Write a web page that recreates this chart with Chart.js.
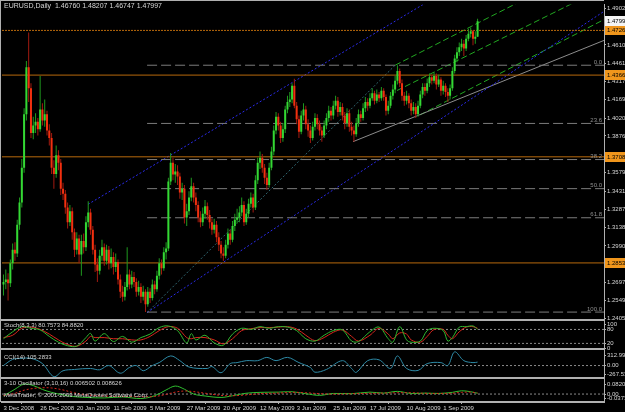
<!DOCTYPE html>
<html>
<head>
<meta charset="utf-8">
<script src="https://cdn.jsdelivr.net/npm/chart.js@4/dist/chart.umd.min.js"></script>
<style>
  html, body { margin: 0; padding: 0; background: #000; }
  canvas { display: block; }
</style>
</head>
<body>
<canvas id="chart" width="625" height="412"></canvas>
<script>
// EURUSD daily, 3 Dec 2008 .. 22 Sep 2009 (bar index 0 = 3 Dec 2008)
const TITLE = 'EURUSD,Daily  1.46760 1.48207 1.46747 1.47997';
const DATE_LABELS = ['3 Dec 2008', '26 Dec 2008', '20 Jan 2009', '11 Feb 2009', '5 Mar 2009', '27 Mar 2009',
  '20 Apr 2009', '12 May 2009', '3 Jun 2009', '25 Jun 2009', '17 Jul 2009', '10 Aug 2009', '1 Sep 2009'];
const DATE_TICK_BARS = [0, 16, 32, 48, 64, 80, 96, 112, 128, 144, 160, 176, 192];

const OPEN = [
  1.2680, 1.2700, 1.2720, 1.2690, 1.2850, 1.2960, 1.2930, 1.3160, 1.3340, 1.3620,
  1.4050, 1.4430, 1.4260, 1.3900, 1.3960, 1.3990, 1.3930, 1.4090, 1.4000, 1.4050,
  1.3920, 1.3860, 1.3620, 1.3570, 1.3720, 1.3660, 1.3450, 1.3410, 1.3300, 1.3180,
  1.3270, 1.3100, 1.2960, 1.3050, 1.2920, 1.3030, 1.2980, 1.3180, 1.3260, 1.3120,
  1.2960, 1.2840, 1.2790, 1.2910, 1.2980, 1.2870, 1.2960, 1.2850, 1.2900, 1.2820,
  1.2860, 1.2720, 1.2620, 1.2580, 1.2660, 1.2760, 1.2680, 1.2740, 1.2700, 1.2620,
  1.2660, 1.2580, 1.2620, 1.2520, 1.2620, 1.2570, 1.2680, 1.2640, 1.2750, 1.2850,
  1.2810, 1.2940, 1.2970, 1.3510, 1.3660, 1.3565, 1.3590, 1.3550, 1.3420, 1.3450,
  1.3220, 1.3270, 1.3380, 1.3470, 1.3380, 1.3320, 1.3220, 1.3180, 1.3250, 1.3310,
  1.3240, 1.3180, 1.3120, 1.3160, 1.3060, 1.3000, 1.2930, 1.2910, 1.3000, 1.3090,
  1.3040, 1.3150, 1.3200, 1.3220, 1.3260, 1.3320, 1.3180, 1.3250, 1.3330, 1.3380,
  1.3300, 1.3520, 1.3660, 1.3700, 1.3620, 1.3540, 1.3480, 1.3620, 1.3750, 1.3920,
  1.4030, 1.3960, 1.3860, 1.3930, 1.4090, 1.4150, 1.4170, 1.4280, 1.4120, 1.4010,
  1.3910, 1.4040, 1.4090, 1.3970, 1.3920, 1.3860, 1.3950, 1.4020, 1.3970, 1.3920,
  1.3880, 1.3960, 1.4020, 1.4080, 1.4040, 1.4120, 1.4160, 1.4070, 1.4110, 1.4040,
  1.3980, 1.4060, 1.3950, 1.3920, 1.3890, 1.3980, 1.4050, 1.4020, 1.4100, 1.4150,
  1.4120, 1.4180, 1.4220, 1.4160, 1.4210, 1.4180, 1.4240, 1.4190, 1.4080, 1.4120,
  1.4200, 1.4250, 1.4320, 1.4400, 1.4300, 1.4200, 1.4160, 1.4200, 1.4140, 1.4080,
  1.4110, 1.4050, 1.4120, 1.4210, 1.4270, 1.4240, 1.4300, 1.4350, 1.4320, 1.4360,
  1.4290, 1.4330, 1.4240, 1.4280, 1.4230, 1.4200, 1.4260, 1.4400, 1.4500, 1.4550,
  1.4590, 1.4620, 1.4580, 1.4660, 1.4700, 1.4720, 1.4660, 1.4676
];
const HIGH = [
  1.2760, 1.2800, 1.2770, 1.2880, 1.3010, 1.3020, 1.3200, 1.3380, 1.3690, 1.4100,
  1.4480, 1.4710, 1.4300, 1.4030, 1.4060, 1.4020, 1.4360, 1.4140, 1.4170, 1.4080,
  1.3970, 1.3900, 1.3680, 1.3800, 1.3760, 1.3690, 1.3500, 1.3440, 1.3340, 1.3320,
  1.3300, 1.3130, 1.3100, 1.3080, 1.3080, 1.3090, 1.3230, 1.3350, 1.3290, 1.3150,
  1.3000, 1.2890, 1.2960, 1.3040, 1.3010, 1.3000, 1.2990, 1.2970, 1.2940, 1.2930,
  1.2880, 1.2760, 1.2670, 1.2700, 1.2980, 1.2800, 1.2790, 1.2780, 1.2730, 1.2710,
  1.2690, 1.2670, 1.2640, 1.2660, 1.2650, 1.2720, 1.2710, 1.2790, 1.2890, 1.2880,
  1.2980, 1.3020, 1.3540, 1.3739, 1.3700, 1.3650, 1.3640, 1.3580, 1.3500, 1.3480,
  1.3330, 1.3430, 1.3540, 1.3500, 1.3420, 1.3350, 1.3270, 1.3300, 1.3360, 1.3340,
  1.3280, 1.3210, 1.3210, 1.3190, 1.3100, 1.3030, 1.2980, 1.3040, 1.3130, 1.3120,
  1.3190, 1.3250, 1.3290, 1.3310, 1.3380, 1.3350, 1.3290, 1.3370, 1.3420, 1.3410,
  1.3560, 1.3700, 1.3750, 1.3730, 1.3650, 1.3580, 1.3660, 1.3790, 1.3960, 1.4070,
  1.4060, 1.3990, 1.3980, 1.4120, 1.4200, 1.4230, 1.4300, 1.4338, 1.4150, 1.4040,
  1.4080, 1.4140, 1.4120, 1.4010, 1.3960, 1.3990, 1.4060, 1.4050, 1.4000, 1.3950,
  1.4000, 1.4060, 1.4120, 1.4110, 1.4160, 1.4200, 1.4190, 1.4150, 1.4140, 1.4070,
  1.4100, 1.4090, 1.3990, 1.3960, 1.4020, 1.4090, 1.4080, 1.4140, 1.4190, 1.4180,
  1.4220, 1.4260, 1.4240, 1.4250, 1.4230, 1.4270, 1.4260, 1.4210, 1.4160, 1.4230,
  1.4290, 1.4360, 1.4446, 1.4420, 1.4330, 1.4230, 1.4240, 1.4220, 1.4170, 1.4150,
  1.4140, 1.4160, 1.4240, 1.4300, 1.4300, 1.4340, 1.4380, 1.4370, 1.4390, 1.4380,
  1.4370, 1.4350, 1.4320, 1.4300, 1.4260, 1.4290, 1.4430, 1.4530, 1.4590, 1.4630,
  1.4660, 1.4650, 1.4690, 1.4740, 1.4750, 1.4730, 1.4720, 1.48207
];
const LOW = [
  1.2590, 1.2640, 1.2550, 1.2660, 1.2800, 1.2870, 1.2900, 1.3120, 1.3300, 1.3580,
  1.4000, 1.4150, 1.3860, 1.3850, 1.3900, 1.3880, 1.3910, 1.3960, 1.3950, 1.3880,
  1.3800, 1.3570, 1.3450, 1.3540, 1.3600, 1.3400, 1.3360, 1.3250, 1.3130, 1.3150,
  1.3040, 1.2900, 1.2920, 1.2850, 1.2750, 1.2930, 1.2950, 1.3140, 1.3080, 1.2920,
  1.2780, 1.2700, 1.2760, 1.2870, 1.2830, 1.2840, 1.2800, 1.2810, 1.2760, 1.2780,
  1.2680, 1.2570, 1.2540, 1.2550, 1.2630, 1.2640, 1.2650, 1.2660, 1.2580, 1.2590,
  1.2530, 1.2550, 1.2457, 1.2500, 1.2530, 1.2550, 1.2600, 1.2620, 1.2720, 1.2760,
  1.2790, 1.2880, 1.2950, 1.3480, 1.3520, 1.3500, 1.3480, 1.3370, 1.3360, 1.3170,
  1.3150, 1.3240, 1.3350, 1.3340, 1.3270, 1.3180, 1.3140, 1.3150, 1.3210, 1.3200,
  1.3130, 1.3080, 1.3090, 1.3020, 1.2950, 1.2890, 1.2869, 1.2890, 1.2970, 1.3000,
  1.3020, 1.3110, 1.3170, 1.3180, 1.3230, 1.3150, 1.3160, 1.3220, 1.3300, 1.3260,
  1.3280, 1.3490, 1.3610, 1.3580, 1.3490, 1.3440, 1.3460, 1.3600, 1.3720, 1.3890,
  1.3920, 1.3820, 1.3830, 1.3900, 1.4060, 1.4110, 1.4140, 1.4100, 1.3970, 1.3860,
  1.3890, 1.4000, 1.3930, 1.3870, 1.3820, 1.3840, 1.3920, 1.3930, 1.3880, 1.3830,
  1.3860, 1.3930, 1.3990, 1.4000, 1.4010, 1.4090, 1.4030, 1.4040, 1.4000, 1.3930,
  1.3950, 1.3910, 1.3880, 1.3830, 1.3870, 1.3950, 1.3990, 1.4000, 1.4070, 1.4080,
  1.4100, 1.4160, 1.4130, 1.4140, 1.4150, 1.4160, 1.4160, 1.4040, 1.4050, 1.4100,
  1.4170, 1.4220, 1.4290, 1.4270, 1.4160, 1.4120, 1.4130, 1.4100, 1.4040, 1.4050,
  1.4020, 1.4030, 1.4100, 1.4180, 1.4200, 1.4220, 1.4270, 1.4290, 1.4300, 1.4250,
  1.4270, 1.4200, 1.4210, 1.4190, 1.4150, 1.4170, 1.4240, 1.4380, 1.4470, 1.4520,
  1.4560, 1.4520, 1.4560, 1.4640, 1.4670, 1.4606, 1.4620, 1.46747
];
const CLOSE = [
  1.2700, 1.2720, 1.2690, 1.2850, 1.2960, 1.2930, 1.3160, 1.3340, 1.3620, 1.4050,
  1.4430, 1.4260, 1.3900, 1.3960, 1.3990, 1.3930, 1.4090, 1.4000, 1.4050, 1.3920,
  1.3860, 1.3620, 1.3570, 1.3720, 1.3660, 1.3450, 1.3410, 1.3300, 1.3180, 1.3270,
  1.3100, 1.2960, 1.3050, 1.2920, 1.3030, 1.2980, 1.3180, 1.3260, 1.3120, 1.2960,
  1.2840, 1.2790, 1.2910, 1.2980, 1.2870, 1.2960, 1.2850, 1.2900, 1.2820, 1.2860,
  1.2720, 1.2620, 1.2580, 1.2660, 1.2760, 1.2680, 1.2740, 1.2700, 1.2620, 1.2660,
  1.2580, 1.2620, 1.2520, 1.2620, 1.2570, 1.2680, 1.2640, 1.2750, 1.2850, 1.2810,
  1.2940, 1.2970, 1.3510, 1.3660, 1.3565, 1.3590, 1.3550, 1.3420, 1.3450, 1.3220,
  1.3270, 1.3380, 1.3470, 1.3380, 1.3320, 1.3220, 1.3180, 1.3250, 1.3310, 1.3240,
  1.3180, 1.3120, 1.3160, 1.3060, 1.3000, 1.2930, 1.2910, 1.3000, 1.3090, 1.3040,
  1.3150, 1.3200, 1.3220, 1.3260, 1.3320, 1.3180, 1.3250, 1.3330, 1.3380, 1.3300,
  1.3520, 1.3660, 1.3700, 1.3620, 1.3540, 1.3480, 1.3620, 1.3750, 1.3920, 1.4030,
  1.3960, 1.3860, 1.3930, 1.4090, 1.4150, 1.4170, 1.4280, 1.4120, 1.4010, 1.3910,
  1.4040, 1.4090, 1.3970, 1.3920, 1.3860, 1.3950, 1.4020, 1.3970, 1.3920, 1.3880,
  1.3960, 1.4020, 1.4080, 1.4040, 1.4120, 1.4160, 1.4070, 1.4110, 1.4040, 1.3980,
  1.4060, 1.3950, 1.3920, 1.3890, 1.3980, 1.4050, 1.4020, 1.4100, 1.4150, 1.4120,
  1.4180, 1.4220, 1.4160, 1.4210, 1.4180, 1.4240, 1.4190, 1.4080, 1.4120, 1.4200,
  1.4250, 1.4320, 1.4400, 1.4300, 1.4200, 1.4160, 1.4200, 1.4140, 1.4080, 1.4110,
  1.4050, 1.4120, 1.4210, 1.4270, 1.4240, 1.4300, 1.4350, 1.4320, 1.4360, 1.4290,
  1.4330, 1.4240, 1.4280, 1.4230, 1.4200, 1.4260, 1.4400, 1.4500, 1.4550, 1.4590,
  1.4620, 1.4580, 1.4660, 1.4700, 1.4720, 1.4660, 1.4676, 1.47997
];

// right-hand price scale labels
const PRICE_TICKS = [1.49025, 1.46100, 1.44615, 1.43175, 1.41690, 1.40205, 1.38765, 1.35795,
  1.34310, 1.32870, 1.31385, 1.29900, 1.26970, 1.25490, 1.24050];
const LAST_PRICE = 1.47997;
const HORIZONTAL_LEVELS = [1.47265, 1.43665, 1.37080, 1.28530];

// fibonacci retracement from the 4 Mar low to the 5 Aug high
const FIB_NAMES = ['0.0', '23.6', '38.2', '50.0', '61.8', '100.0'];
const FIB_PRICES = [1.4446, 1.3977, 1.3686, 1.34515, 1.3217, 1.2457];
const FIB_START_BAR = 62.7;

// trend / channel lines, end points as [bar, price]
const BLUE_UPPER = [[36.9, 1.3325], [190, 1.5010]];
const BLUE_LOWER = [[62.7, 1.2453], [262.2, 1.4880]];
const TEAL_MID = [[62.7, 1.2453], [171, 1.4446]];
const GRAY_TREND = [[152.6, 1.3830], [262.2, 1.4646]];
const GREEN_1 = [[171, 1.4446], [229.9, 1.5000]];
const GREEN_2 = [[171.8, 1.4242], [254.4, 1.4999]];
const GREEN_3 = [[181.9, 1.4046], [262.2, 1.4814]];

// Stoch(8,3,3)
const STOCH_BARS = [0, 4, 8, 12, 16, 20, 24, 28, 32, 36, 38, 40, 44, 48, 52, 56, 60, 64, 68, 72, 76, 80, 82, 84,
  88, 92, 96, 100, 104, 108, 112, 116, 120, 124, 128, 132, 136, 140, 144, 148, 152, 155, 160, 164, 168, 170,
  173, 176, 178, 182, 185, 188, 192, 194, 196, 199, 202, 205, 207];
const STOCH_MAIN = [40, 70, 92, 85, 78, 50, 25, 10, 8, 45, 63, 30, 62, 28, 50, 25, 45, 60, 88, 95, 75, 22, 62, 35,
  55, 22, 12, 60, 85, 80, 92, 85, 92, 90, 75, 40, 30, 55, 75, 78, 30, 28, 70, 90, 40, 25,
  92, 35, 25, 30, 75, 85, 75, 30, 45, 90, 92, 95, 80.7573];
const STOCH_SIGNAL = [45, 55, 85, 90, 80, 60, 35, 15, 8, 30, 50, 45, 45, 40, 40, 35, 35, 50, 75, 92, 85, 45, 40, 45,
  45, 35, 18, 40, 75, 83, 88, 88, 90, 92, 82, 55, 32, 45, 68, 78, 50, 30, 55, 85, 60, 40,
  65, 60, 35, 25, 50, 80, 80, 55, 40, 70, 90, 92, 84.8820];
const STOCH_LEVELS = [80, 20];

// CCI(14)
const CCI_BARS = [0, 4, 7, 12, 17, 22, 26, 31, 38, 42, 46, 51, 55, 58, 61, 65, 68, 73, 77, 81, 89, 91, 95, 99, 102,
  106, 111, 115, 119, 124, 129, 134, 136, 141, 148, 152, 154, 159, 164, 169, 172, 176, 181, 185, 191, 194,
  197, 201, 205, 207];
const CCI_VALUES = [0, 190, 215, 220, 60, -340, -160, -120, -90, -130, 0, -235, -60, 0, -160, 0, 90, 295, 150, -45,
  -90, -30, -220, 60, 90, 150, 150, 250, 150, 250, 90, -60, -205, -120, 150, -90, -210, 150, 175, -90,
  295, -90, -150, 60, 90, 0, 420, 150, 90, 105.2833];

// 3-10 Oscillator (3,10,16)
const OSC_BARS = [0, 5, 9, 13, 17, 21, 26, 30, 36, 44, 52, 60, 66, 71, 75, 79, 83, 88, 95, 100, 106, 112, 120, 126,
  132, 138, 144, 152, 160, 166, 172, 178, 184, 190, 196, 200, 204, 207];
const OSC_MAIN = [-0.016, 0.040, 0.082, 0.070, 0.038, 0.014, -0.007, -0.020, -0.028, -0.032,
  -0.024, -0.037, -0.014, 0.034, 0.066, 0.040, 0.000, -0.016, -0.028, -0.014,
  0.007, 0.014, 0.016, 0.019, 0.003, -0.011, 0.005, 0.003, 0.016, 0.008,
  0.022, 0.005, 0.008, 0.005, 0.014, 0.027, 0.019, 0.006502];
const OSC_SIGNAL = [-0.012, 0.006, 0.032, 0.046, 0.052, 0.050, 0.034, 0.014, -0.006, -0.016,
  -0.020, -0.022, -0.020, -0.003, 0.016, 0.025, 0.020, 0.007, -0.011, -0.014,
  -0.007, 0.003, 0.008, 0.014, 0.011, 0.003, 0.000, 0.003, 0.006, 0.008,
  0.011, 0.011, 0.006, 0.005, 0.007, 0.014, 0.016, 0.008626];

// visible bar window (empty space on the right like the terminal's chart shift)
const X_MIN = -0.65;
const X_MAX = 262.2;

const FAMILY = "'Liberation Sans', Arial, sans-serif";
const FONT = { family: FAMILY, size: 6 };
const TEXT = '#d6d6d6';
const FRAME = '#b0b0b0';

const bullish = (i) => CLOSE[i] >= OPEN[i];
const toPoints = (pairs) => pairs.map(([x, y]) => ({ x, y }));
const series = (bars, values) => bars.map((x, i) => ({ x, y: values[i] }));

function straight(points, color, dash, axis = 'y') {
  return {
    type: 'line',
    data: points,
    borderColor: color,
    borderWidth: 1,
    borderDash: dash,
    pointRadius: 0,
    tension: 0,
    yAxisID: axis,
    order: 5,
  };
}

function curve(points, color, axis, dash = []) {
  return {
    type: 'line',
    data: points,
    borderColor: color,
    borderWidth: 1,
    borderDash: dash,
    pointRadius: 0,
    tension: 0.35,
    yAxisID: axis,
    order: 2,
  };
}

function panelAxis(min, max, weight, tickValues, format) {
  return {
    type: 'linear',
    position: 'right',
    stack: 'panels',
    stackWeight: weight,
    min,
    max,
    offset: false,
    grid: { drawOnChartArea: false, drawTicks: true, tickLength: 2, color: FRAME },
    border: { display: true, color: FRAME, width: 1 },
    ticks: { color: TEXT, font: FONT, padding: 1, autoSkip: false, callback: format },
    afterBuildTicks: (scale) => { scale.ticks = tickValues.map((value) => ({ value })); },
    afterFit: (scale) => { scale.width = 21; },
  };
}

const datasets = [
  {
    type: 'bar',
    data: LOW.map((low, i) => ({ x: i, y: [low, HIGH[i]] })),
    backgroundColor: OPEN.map((_, i) => (bullish(i) ? '#1f9a1f' : '#a31a10')),
    grouped: false,
    categoryPercentage: 1,
    barPercentage: 1,
    maxBarThickness: 1,
    inflateAmount: 0,
    yAxisID: 'y',
    order: 1,
  },
  {
    type: 'bar',
    data: OPEN.map((open, i) => ({ x: i, y: [open, CLOSE[i]] })),
    backgroundColor: OPEN.map((_, i) => (bullish(i) ? '#34d834' : '#f2300f')),
    grouped: false,
    categoryPercentage: 1,
    barPercentage: 1,
    maxBarThickness: 2,
    inflateAmount: 0,
    yAxisID: 'y',
    order: 0,
  },
];

HORIZONTAL_LEVELS.forEach((level, i) => {
  datasets.push(straight([{ x: X_MIN, y: level }, { x: X_MAX, y: level }], '#b8690c', i === 0 ? [2, 1] : []));
});
FIB_PRICES.forEach((price) => {
  datasets.push(straight([{ x: FIB_START_BAR, y: price }, { x: X_MAX, y: price }], '#7c7c7c', [10, 4]));
});
datasets.push(straight(toPoints(BLUE_UPPER), '#2a2ae8', [2, 2]));
datasets.push(straight(toPoints(BLUE_LOWER), '#2a2ae8', [2, 2]));
datasets.push(straight(toPoints(TEAL_MID), '#2f6670', [2, 2]));
datasets.push(straight(toPoints(GRAY_TREND), '#8c8c8c', []));
datasets.push(straight(toPoints(GREEN_1), '#22a822', [6, 3]));
datasets.push(straight(toPoints(GREEN_2), '#22a822', [6, 3]));
datasets.push(straight(toPoints(GREEN_3), '#22a822', [6, 3]));

STOCH_LEVELS.forEach((level) => {
  datasets.push(straight([{ x: X_MIN, y: level }, { x: X_MAX, y: level }], '#8a8a8a', [2, 2], 'yStoch'));
});
datasets.push(straight([{ x: X_MIN, y: 0 }, { x: X_MAX, y: 0 }], '#8a8a8a', [2, 2], 'yCci'));
datasets.push(straight([{ x: X_MIN, y: 0 }, { x: X_MAX, y: 0 }], '#8a8a8a', [2, 2], 'yOsc'));

datasets.push(curve(series(STOCH_BARS, STOCH_MAIN), '#2fb52f', 'yStoch'));
datasets.push(curve(series(STOCH_BARS, STOCH_SIGNAL), '#d8261c', 'yStoch'));
datasets.push(curve(series(CCI_BARS, CCI_VALUES), '#2e8aa6', 'yCci'));
datasets.push(curve(series(OSC_BARS, OSC_SIGNAL), '#d8261c', 'yOsc', [2, 2]));
datasets.push(curve(series(OSC_BARS, OSC_MAIN), '#2fc02f', 'yOsc'));

// Text, price boxes and the panel frames the terminal draws on top of the plot.
const terminalDecor = {
  id: 'terminalDecor',
  afterDraw(chart) {
    const { ctx, chartArea, scales } = chart;
    const yMain = scales.y;
    ctx.save();

    // frame + separators between indicator windows
    ctx.fillStyle = FRAME;
    ctx.fillRect(0, 0, chartArea.right, 1);
    ctx.fillRect(0, 0, 1, chartArea.bottom);
    ['yStoch', 'yCci', 'yOsc'].forEach((id) => {
      ctx.fillRect(0, Math.round(scales[id].top) - 1, chartArea.right, 2);
    });

    ctx.textBaseline = 'middle';
    ctx.textAlign = 'left';
    ctx.fillStyle = TEXT;
    ctx.font = `7px ${FAMILY}`;
    ctx.fillText(TITLE, 4, 6);
    ctx.font = `6px ${FAMILY}`;
    ctx.fillText('Stoch(8,3,3) 80.7573 84.8820', 4, scales.yStoch.top + 6);
    ctx.fillText('CCI(14) 105.2833', 4, scales.yCci.top + 8);
    ctx.fillText('3-10 Oscillator (3,10,16) 0.006502 0.008626', 4, scales.yOsc.top + 5);
    ctx.fillText('MetaTrader, \u00a9 2001-2009 MetaQuotes Software Corp.', 4, scales.yOsc.top + 17);

    // fibonacci level names at the right end of each line
    ctx.fillStyle = '#8f8f8f';
    ctx.textAlign = 'right';
    ctx.textBaseline = 'bottom';
    FIB_PRICES.forEach((price, i) => {
      ctx.fillText(FIB_NAMES[i], chartArea.right - 2, yMain.getPixelForValue(price));
    });

    // price tags on the scale
    ctx.textAlign = 'left';
    ctx.textBaseline = 'middle';
    const tag = (price, fill) => {
      const y = Math.round(yMain.getPixelForValue(price));
      ctx.fillStyle = fill;
      ctx.fillRect(chartArea.right + 1, y - 5, chart.width - chartArea.right, 10);
      ctx.fillStyle = '#000';
      ctx.fillText(price.toFixed(5), chartArea.right + 3, y);
    };
    HORIZONTAL_LEVELS.forEach((level) => tag(level, '#f0961c'));
    tag(LAST_PRICE, '#f4f4f4');
    ctx.restore();
  },
};

new Chart(document.getElementById('chart'), {
  type: 'bar',
  data: { datasets },
  options: {
    responsive: false,
    devicePixelRatio: 1,
    animation: false,
    events: [],
    layout: { padding: { left: 2, top: 2, right: 0, bottom: 0 } },
    plugins: { legend: { display: false }, tooltip: { enabled: false } },
    scales: {
      x: {
        type: 'linear',
        min: X_MIN,
        max: X_MAX,
        offset: false,
        grid: { display: true, drawOnChartArea: false, drawTicks: true, tickLength: 2, color: FRAME },
        border: { display: true, color: FRAME, width: 2 },
        ticks: {
          color: TEXT,
          font: FONT,
          padding: 1,
          align: 'start',
          autoSkip: false,
          maxRotation: 0,
          callback: (value) => DATE_LABELS[DATE_TICK_BARS.indexOf(value)] ?? '',
        },
        afterBuildTicks: (scale) => { scale.ticks = DATE_TICK_BARS.map((value) => ({ value })); },
        afterFit: (scale) => { scale.height = 10; },
      },
      y: panelAxis(1.23969, 1.49345, 317, PRICE_TICKS, (v) => v.toFixed(5)),
      yStoch: panelAxis(-5.6, 122.6, 30, [100, 80, 20, 0], (v) => String(v)),
      yCci: panelAxis(-387, 497, 29, [312.992, 0, -267.537], (v) => (v === 0 ? '0.00' : v.toFixed(3))),
      yOsc: panelAxis(-0.0656, 0.1312, 24, [0.08206, 0, -0.03732], (v) => (v === 0 ? '0.00' : v.toFixed(5))),
    },
  },
  plugins: [terminalDecor],
});
</script>
</body>
</html>
